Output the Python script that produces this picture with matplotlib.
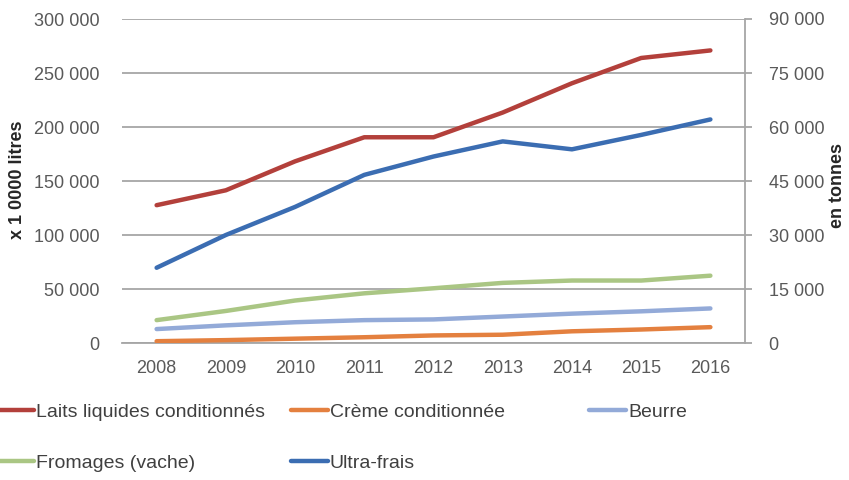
import numpy as np
import matplotlib
matplotlib.use("Agg")
import matplotlib.pyplot as plt
from matplotlib.ticker import FuncFormatter, MultipleLocator

plt.rcParams['font.family'] = ['Liberation Sans', 'DejaVu Sans']

years = ['2008', '2009', '2010', '2011', '2012', '2013', '2014', '2015', '2016']

# left axis (x 1 0000 litres)
laits = [127600, 141400, 168200, 190500, 190500, 213400, 240500, 263900, 270900]
# right axis (en tonnes)
creme = [500, 800, 1200, 1600, 2100, 2300, 3250, 3750, 4400]
beurre = [3870, 4900, 5770, 6350, 6550, 7350, 8150, 8800, 9600]
fromages = [6350, 8900, 11800, 13800, 15200, 16700, 17350, 17350, 18700]
ultra_frais = [20900, 30000, 37800, 46700, 51800, 56000, 53800, 57800, 62100]

GRAY = '#a6a6a6'
TXT = '#595959'


def fmt(v, pos):
    return f"{int(v):,}".replace(",", " ")


def main():
    fig = plt.figure(figsize=(8.49, 4.8), dpi=100)
    ax = fig.add_axes([122 / 849, 1 - 343 / 480, 623 / 849, 324 / 480])
    ax2 = ax.twinx()

    x = np.arange(len(years))
    lw = 3.2
    l1, = ax.plot(x, laits, color='#b3403b', lw=lw, solid_capstyle='round', zorder=3)
    l2, = ax2.plot(x, creme, color='#e4803f', lw=lw, solid_capstyle='round')
    l3, = ax2.plot(x, beurre, color='#93aad8', lw=lw, solid_capstyle='round')
    l4, = ax2.plot(x, fromages, color='#aac684', lw=lw, solid_capstyle='round')
    l5, = ax2.plot(x, ultra_frais, color='#3b6db2', lw=lw, solid_capstyle='round')

    ax.set_xlim(-0.5, len(years) - 0.5)
    ax.set_ylim(0, 300000)
    ax2.set_ylim(0, 90000)
    ax.yaxis.set_major_locator(MultipleLocator(50000))
    ax2.yaxis.set_major_locator(MultipleLocator(15000))
    ax.yaxis.set_major_formatter(FuncFormatter(fmt))
    ax2.yaxis.set_major_formatter(FuncFormatter(fmt))
    ax.set_xticks(x)
    ax.set_xticklabels(years)

    ax.grid(axis='y', color=GRAY, lw=1.3)
    ax.set_axisbelow(True)
    for s in ['left', 'top', 'right']:
        ax.spines[s].set_visible(False)
    ax.spines['bottom'].set_color(GRAY)
    ax.spines['bottom'].set_linewidth(1.3)
    for s in ['left', 'top', 'bottom']:
        ax2.spines[s].set_visible(False)
    ax2.spines['right'].set_color(GRAY)
    ax2.spines['right'].set_linewidth(1.3)

    ax.tick_params(axis='y', length=0, pad=16, labelsize=13, labelcolor=TXT)
    ax.tick_params(axis='x', length=0, pad=12, labelsize=13, labelcolor=TXT)
    ax2.tick_params(axis='y', length=5, width=1.3, color=GRAY, pad=12,
                    labelsize=13, labelcolor=TXT)

    fig.text(18 / 849, 1 - 180 / 480, 'x 1 0000 litres', rotation=90, fontsize=13,
             fontweight='bold', color='#262626', ha='center', va='center')
    fig.text(838 / 849, 1 - 185 / 480, 'en tonnes', rotation=90, fontsize=13,
             fontweight='bold', color='#262626', ha='center', va='center')

    cols = [([l1, l4], ['Laits liquides conditionnés', 'Fromages (vache)'], -3),
            ([l2, l5], ['Crème conditionnée', 'Ultra-frais'], 291),
            ([l3], ['Beurre'], 589)]
    for h, labs, px in cols:
        fig.legend(h, labs, loc='upper left', bbox_to_anchor=(px / 849, 1 - 403 / 480),
                   frameon=False, fontsize=14, handlelength=1.9, handletextpad=0.1,
                   labelspacing=1.75, borderpad=0, borderaxespad=0, labelcolor='#404040')

    fig.savefig('out.png', dpi=100)


if __name__ == '__main__':
    main()
